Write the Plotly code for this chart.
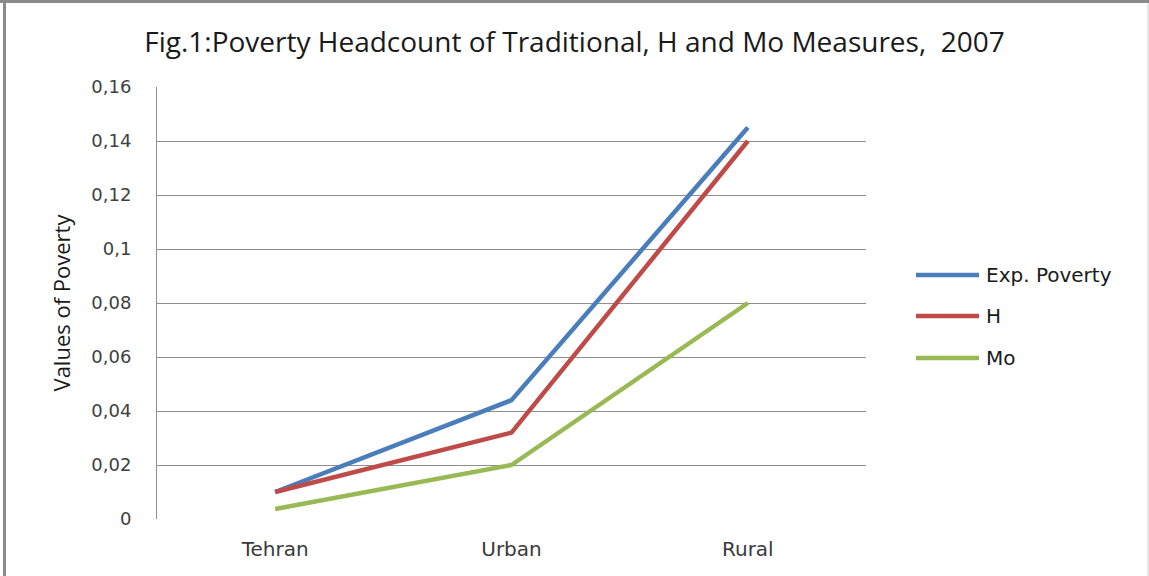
import plotly.graph_objects as go

categories = ["Tehran", "Urban", "Rural"]
exp_poverty = [0.010, 0.044, 0.145]
h_values = [0.010, 0.032, 0.140]
mo_values = [0.0037, 0.020, 0.080]
series_names = ["Exp. Poverty", "H", "Mo"]
series_colors = ["#4A7EBB", "#BE4B48", "#98B954"]
y_ticks = [0, 0.02, 0.04, 0.06, 0.08, 0.10, 0.12, 0.14, 0.16]

fig = go.Figure()
for name, vals, col in zip(series_names, [exp_poverty, h_values, mo_values], series_colors):
    fig.add_trace(go.Scatter(x=categories, y=vals, mode="lines", name=name,
                             showlegend=False,
                             line=dict(color=col, width=4.5)))

W, H = 1149, 576
L, R, T, B = 157, 866, 87, 519
pw, ph = R - L, B - T

def px(x):
    return (x - L) / pw

def py(y):
    return (B - y) / ph

shapes = [
    dict(type="rect", xref="paper", yref="paper", x0=px(3), x1=px(6), y0=py(0), y1=py(H),
         line=dict(width=0), fillcolor="#8a8a8a"),
    dict(type="rect", xref="paper", yref="paper", x0=px(1147.5), x1=px(1148.5), y0=py(0), y1=py(H),
         line=dict(width=0), fillcolor="#cccccc"),
]
annotations = []
legend_y = [275, 316, 358]
for name, col, ly in zip(series_names, series_colors, legend_y):
    shapes.append(dict(type="line", xref="paper", yref="paper", x0=px(916), x1=px(979),
                       y0=py(ly), y1=py(ly), line=dict(color=col, width=4.5)))
    annotations.append(dict(text=name, xref="paper", yref="paper", x=px(984), y=py(ly),
                            xanchor="left", yanchor="middle", showarrow=False,
                            font=dict(family="DejaVu Sans", size=20, color="#1a1a1a")))

fig.update_layout(
    width=W, height=H,
    margin=dict(l=L, r=W - R, t=T, b=H - B),
    paper_bgcolor="white", plot_bgcolor="white",
    separators=", ",
    showlegend=False,
    title=dict(text="Fig.1:Poverty Headcount of Traditional, H and Mo Measures,  2007",
               x=0.5, xref="container", xanchor="center", y=1 - 42 / H, yanchor="middle",
               font=dict(family="Open Sans", size=28, color="#1a1a1a")),
    xaxis=dict(range=[-0.5, 2.5], showgrid=False, showline=False, ticks="",
               ticklabelstandoff=16,
               tickfont=dict(family="DejaVu Sans", size=20, color="#3a3a3a")),
    yaxis=dict(range=[0, 0.16], tickvals=y_ticks, showgrid=True, gridcolor="#8e8e8e",
               gridwidth=1, showline=True, linecolor="#8e8e8e", linewidth=1, zeroline=False,
               ticks="", ticklabelstandoff=21,
               tickfont=dict(family="DejaVu Sans", size=18, color="#404040"),
               title=dict(text="Values of Poverty", standoff=14,
                          font=dict(family="Open Sans", size=22, color="#1a1a1a"))),
    shapes=shapes,
    annotations=annotations,
)

post = (
    "document.body.style.margin='0';document.body.style.padding='0';"
    "var b=document.createElement('div');"
    "b.style.cssText='position:fixed;left:0;top:0;width:1149px;height:3px;background:#8a8a8a;z-index:10;pointer-events:none';"
    "document.body.appendChild(b);"
)
fig.write_html("out.html", config={"displayModeBar": False}, post_script=post)
